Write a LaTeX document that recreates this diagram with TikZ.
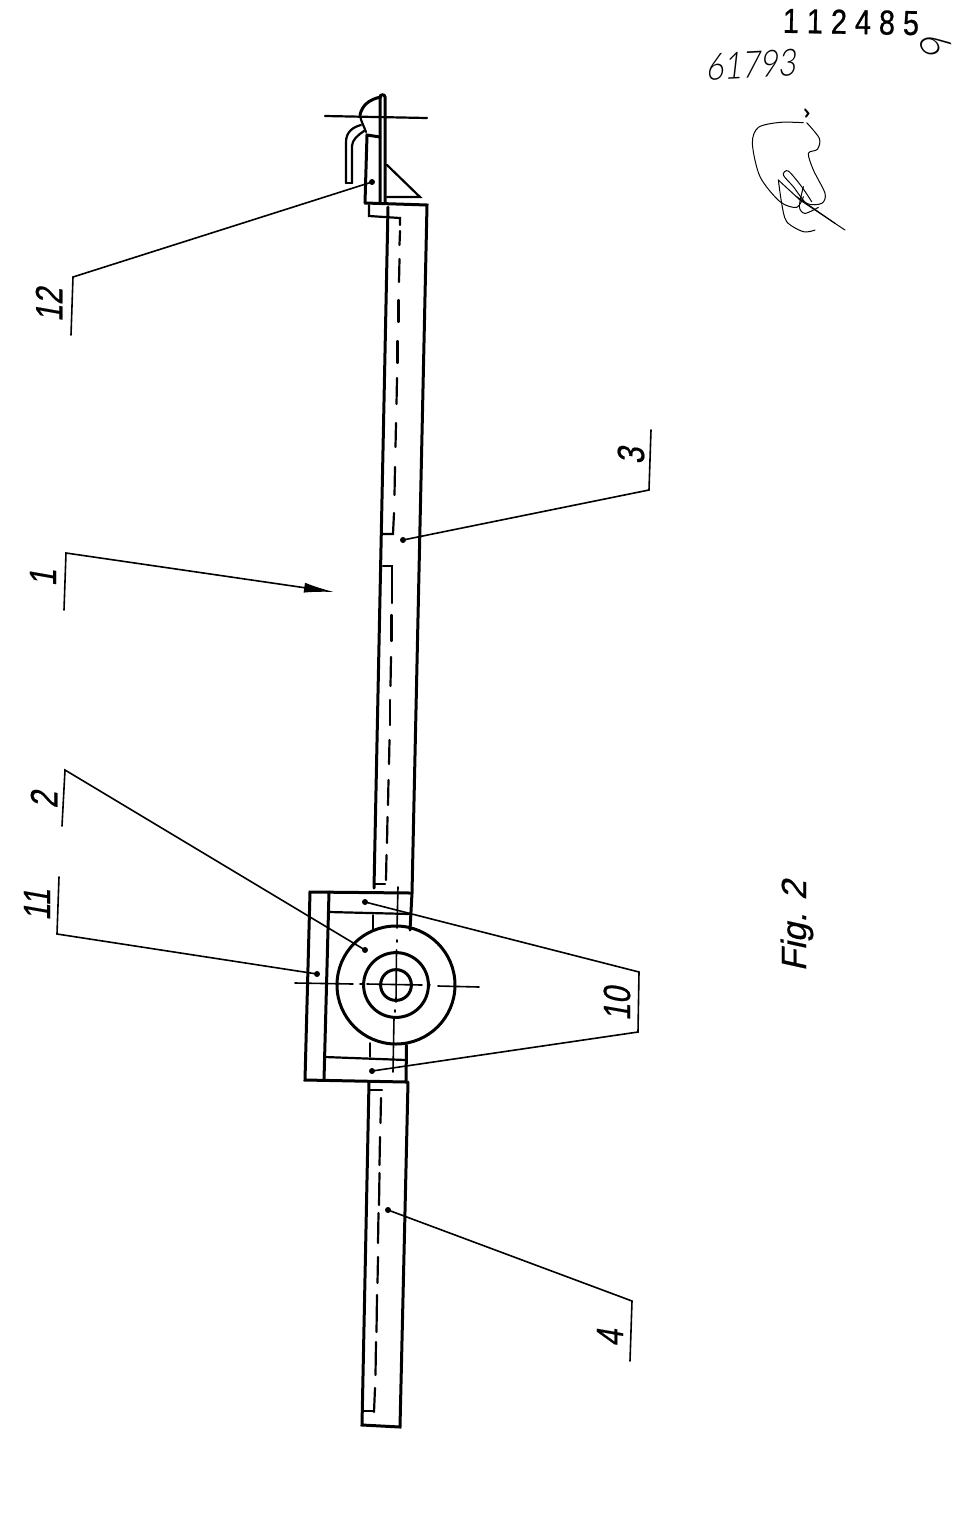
\documentclass[tikz,border=0pt]{standalone}
\usepackage{graphicx}
\usepackage{fontspec}
\setmainfont{Liberation Sans}
\newfontfamily\labfont[FakeBold=0.5,FakeSlant=0.22]{Liberation Sans}
\newfontfamily\numfont[FakeBold=0.8]{Liberation Sans}
\newfontfamily\handfont[FakeSlant=0.2]{Lato Light}
\usetikzlibrary{arrows.meta}
\tikzset{
  heavy/.style={line width=1.5pt,line cap=round,line join=miter},
  medium/.style={line width=1.1pt,line cap=round},
  fine/.style={line width=0.8pt,line cap=round,line join=miter},
  leader/.style={line width=0.8pt,line cap=round,line join=miter},
  sig/.style={line width=0.5pt,line cap=round},
  dotn/.style={circle,fill=black,inner sep=0pt,minimum size=3pt},
  refn/.style={rotate=90,inner sep=0pt,font=\labfont\fontsize{19}{19}\selectfont}
}
\begin{document}
\begin{tikzpicture}[x=0.5pt,y=-0.5pt]
\useasboundingbox (0,0) rectangle (960,1532);
\fill[white] (0,0) rectangle (960,1532);

% bar 3
\draw[heavy] (388,207) -- (374,888);
\draw[heavy] (365,203) -- (427,205) -- (412,893);
\draw[medium] (369,205) -- (369,216) -- (400,218) -- (400,225);
\foreach \ya/\xa/\yb/\xb in {231/400/245/399.5,259/399.5/282/399,300/398.5/322/398.5,341/397.5/363/397.5,378/397/404/396.5,423/396/447/395.5,467/395/495/394.5}
  \draw[medium] (\xa,\ya) -- (\xb,\yb);
\draw[medium] (383,534) -- (393,534) -- (394,513);
\draw[medium] (383,566) -- (392,566) -- (392,603);
\foreach \ya/\xa/\yb/\xb in {615/391.5/641/391.5,657/391/686/390.5,700/390/725/390,740/389.5/764/389,780/388.5/805/388,817/387.5/843/387,855/386.5/880/386}
  \draw[medium] (\xa,\ya) -- (\xb,\yb);
\draw[medium] (375,884) -- (385,884);

% bracket
\draw[heavy] (410,893) -- (310,892) -- (305,1080) -- (406,1082) -- (406.5,1045);
\draw[heavy] (329,892) -- (324,1080);
\draw[medium] (329,912) -- (410,914);
\draw[medium] (325,1057) -- (406,1060);
\draw[fine] (373,915) -- (373,930);
\draw[fine] (370,1043) -- (370,1057);
\draw[heavy] (412,893) -- (410,930);

% wheel
\coordinate (wheel) at (396,985);
\draw[heavy] (wheel) circle[radius=29.5pt];
\draw[heavy] (wheel) circle[radius=16.2pt];
\draw[heavy] (wheel) circle[radius=7.7pt];
\draw[fine] (295,983) -- (353,984);
\draw[fine] (360,984) -- (363,984);
\draw[fine] (367,984) -- (422,985);
\draw[fine] (428,985) -- (430,985);
\draw[fine] (438,986) -- (479,987);
\draw[fine] (398,887) -- (397,928);
\draw[fine] (397,940) -- (397,942);
\draw[fine] (396.5,950) -- (396,1002);
\draw[fine] (395,1010) -- (395,1012);
\draw[fine] (394,1018) -- (393,1072);

% bar 4
\draw[heavy] (369,1082) -- (362,1425) -- (400,1427) -- (408,1082);
\draw[medium] (369,1090) -- (382,1090);
\foreach \ya/\xa/\yb/\xb in {1098/381/1123/380.5,1137/380/1165/379.5,1173/379.5/1205/379,1213/378.5/1243/378,1257/378/1283/377.5,1295/377/1332/376.5,1342/376/1375/375.5,1388/375/1412/374}
  \draw[medium] (\xa,\ya) -- (\xb,\yb);
\draw[medium] (362,1411) -- (373,1411);

% top fitting
\draw[heavy] (365,203) -- (367,135) -- (380,137);
\draw[heavy] (380,202) -- (380,97) .. controls (380,94) and (385,94) .. (385,97) -- (385,203);
\draw[heavy] (360,115) .. controls (362,105) and (370,99) .. (381,97);
\draw[medium] (360,115) .. controls (361,122) and (364,126) .. (366,132);
\draw[medium] (346,183) -- (346,142) .. controls (346,132) and (353,127) .. (361,125);
\draw[medium] (352,183) -- (352,146) .. controls (352,140) and (358,135) .. (364,131);
\draw[medium] (346,183) -- (352,183);
\draw[medium] (325,116) -- (427,118);
\draw[medium] (387,165) -- (420,197) -- (387,197);

% leaders and labels
\node[dotn] (d12) at (372,182) {};
\coordinate (k12a) at (71,335); \coordinate (k12b) at (73,277);
\draw[leader] (k12a) -- (k12b) -- (d12.center);
\node[refn] (t12) at (49,305) {\scalebox{.8}[1]{12}};

\coordinate (k1a) at (64,610); \coordinate (k1b) at (66,553); \coordinate (k1c) at (334,592);
\draw[leader,-{Latex[length=15pt,width=5pt]}] (k1a) -- (k1b) -- (k1c);
\node[refn] (t1) at (43,578) {\scalebox{.8}[1]{1}};

\node[dotn] (d2) at (365,950) {};
\coordinate (k2a) at (62,826); \coordinate (k2b) at (65,770);
\draw[leader] (k2a) -- (k2b) -- (d2.center);
\node[refn] (t2) at (44,800) {\scalebox{.8}[1]{2}};

\node[dotn] (d11) at (317,974) {};
\coordinate (k11a) at (59,877); \coordinate (k11b) at (57,934);
\draw[leader] (k11a) -- (k11b) -- (d11.center);
\node[refn] (t11) at (37,905) {\scalebox{.8}[1]{11}};

\node[dotn] (d3) at (403,540) {};
\coordinate (k3a) at (651,430); \coordinate (k3b) at (649,490);
\draw[leader] (k3a) -- (k3b) -- (d3.center);
\node[refn] (t3) at (631,456) {\scalebox{.8}[1]{3}};

\node[dotn] (d10a) at (365,902) {};
\node[dotn] (d10b) at (372,1071) {};
\coordinate (k10a) at (639,972); \coordinate (k10b) at (638,1032);
\draw[leader] (d10a.center) -- (k10a) -- (k10b) -- (d10b.center);
\node[refn] (t10) at (617,1004) {\scalebox{.8}[1]{10}};

\node[dotn] (d4) at (388,1210) {};
\coordinate (k4a) at (632,1301); \coordinate (k4b) at (630,1361);
\draw[leader] (k4a) -- (k4b);
\draw[leader] (k4a) -- (d4.center);
\node[refn] (t4) at (610,1338) {\scalebox{.8}[1]{4}};

\node[rotate=90,inner sep=0pt,font=\labfont\fontsize{17.5}{17.5}\selectfont] (fig) at (797,926) {Fig. 2};

% header
\node[inner sep=0pt,rotate=-1,font=\numfont\fontsize{14.4}{14.4}\selectfont] (num) at (851,22) {\scalebox{1}[1.2]{1 1 2 4 8 5}};
\node[inner sep=0pt,rotate=3,font=\handfont\fontsize{15.5}{15.5}\selectfont] (hand) at (751,65) {\scalebox{1}[1.2]{61793}};
\node[inner sep=0pt,rotate=-62,font=\handfont\fontsize{20}{20}\selectfont] (six) at (934,42) {6};

% signature
\begin{scope}[shift={(660,0)},x=0.1667pt,y=-0.1667pt]
\draw[sig] plot[smooth] coordinates {(430,368) (360,367) (295,382) (277,430) (300,530) (360,605) (410,622) (430,590)};
\draw[sig] plot[smooth] coordinates {(440,368) (478,415) (472,448) (445,460) (460,510) (495,580) (485,610) (440,610) (400,560) (370,525) (385,513) (425,560) (455,605)};
\draw[sig] plot[smooth] coordinates {(355,540) (365,610) (380,665) (430,695) (465,690)};
\draw[sig] (355,540) -- (420,600) -- (555,690);
\draw[sig] (410,590) -- (525,670);
\draw[sig] plot[smooth] coordinates {(430,560) (418,620) (435,640) (475,622)};
\draw[line width=1pt,line cap=round] (435,328) -- (445,340) -- (438,350);
\end{scope}
\end{tikzpicture}
\end{document}
